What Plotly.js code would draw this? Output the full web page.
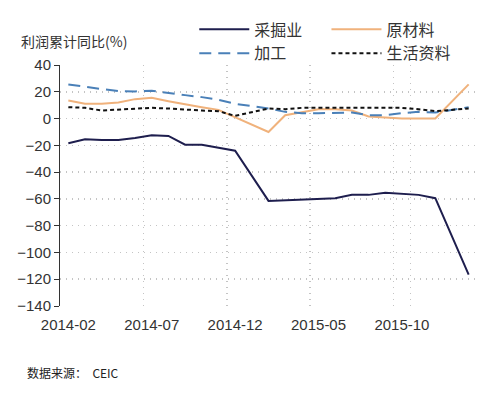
<!DOCTYPE html>
<html>
<head>
<meta charset="utf-8">
<script src="https://cdn.plot.ly/plotly-3.0.1.min.js"></script>
<style>html,body{margin:0;padding:0;background:#fff;}#chart{width:501px;height:396px;}</style>
</head>
<body>
<div id="chart"></div>
<script>
var months = ["2014-02","2014-03","2014-04","2014-05","2014-06","2014-07","2014-08","2014-09","2014-10","2014-11","2014-12",
  "2015-01","2015-02","2015-03","2015-04","2015-05","2015-06","2015-07","2015-08","2015-09","2015-10","2015-11","2015-12",
  "2016-01","2016-02"];
var tickLabels = ["2014-02","2014-07","2014-12","2015-05","2015-10"];
var mining   = [-18.5,-15.5,-16,-16,-14.5,-12.5,-13,-19.5,-19.5,-21.5,-24,null,-61.5,-61,-61,-60.5,-59.5,-57,-57,-55.5,-56,-57,-59.5,null,-116.5];
var rawMat   = [13.5,11,11,12,14.5,15.5,13,10.5,8.5,6.5,1,null,-10,2.5,5,7,7,6,1.5,0.5,0,0,0,null,25.5];
var process  = [25.5,23.5,22,20.5,20.3,20.8,19,17.5,16,14,11,null,7.5,5,4,4,4,4.5,2.5,2.5,4,5,4.5,null,8.5];
var living   = [8.5,8,6,6.5,7.5,8,7.5,6.5,6,5.5,2,null,7.5,7,8,8,8,8,8,8.5,8,7,5.5,null,7.5];
var names = ["采掘业","原材料","加工","生活资料"];

var yMin = -140, yMax = 40;
var cjk = "'Noto Sans CJK SC', 'Noto Sans', sans-serif";
var latin = "'Liberation Sans', Arial, sans-serif";

var traces = [
  {x: months, y: mining, name: names[0], type: 'scatter', mode: 'lines', connectgaps: true, legend: 'legend',
   line: {color: '#1e1e4e', width: 2}},
  {x: months, y: rawMat, name: names[1], type: 'scatter', mode: 'lines', connectgaps: true, legend: 'legend2',
   line: {color: '#f0b27c', width: 2}},
  {x: months, y: process, name: names[2], type: 'scatter', mode: 'lines', connectgaps: true, legend: 'legend',
   line: {color: '#4a80b8', width: 2, dash: '12px,7px'}},
  {x: months, y: living, name: names[3], type: 'scatter', mode: 'lines', connectgaps: true, legend: 'legend2',
   line: {color: '#111111', width: 2, dash: '4px,3px'}}
];

var legendStyle = function (xpos) {
  return {orientation: 'v', x: xpos, y: 1.218, xanchor: 'left', yanchor: 'top',
    itemwidth: 50, tracegroupgap: 0, traceorder: 'normal',
    font: {family: cjk, size: 16, color: '#333'}, bgcolor: 'rgba(0,0,0,0)'};
};

var layout = {
  width: 501, height: 396,
  margin: {l: 60, r: 24, t: 63, b: 90},
  paper_bgcolor: '#ffffff', plot_bgcolor: '#ffffff',
  showlegend: true,
  legend: legendStyle(0.322),
  legend2: legendStyle(0.639),
  xaxis: {type: 'category', categoryorder: 'array', categoryarray: months,
    range: [-0.5, months.length - 0.5], tickmode: 'array', tickvals: tickLabels, ticktext: tickLabels,
    tickson: 'boundaries', ticks: '', tickangle: 0, ticklabelstandoff: 8, showline: false, zeroline: false,
    showgrid: true, gridcolor: '#c4c4c4', griddash: '1px,5px', gridwidth: 1.5,
    tickfont: {family: latin, size: 15, color: '#333'}, automargin: false},
  xaxis2: {type: 'linear', overlaying: 'x', anchor: 'free', position: (0 - yMin) / (yMax - yMin),
    range: [-0.5, months.length - 0.5], tickmode: 'array',
    tickvals: [4.5, 9.5, 14.5, 19.5, 24.5], ticks: 'outside', ticklen: 5, tickcolor: '#444', tickwidth: 1,
    showticklabels: false, showgrid: false, zeroline: false, showline: true, linecolor: '#555', linewidth: 1},
  yaxis: {range: [yMin, yMax], dtick: 20, tick0: 0, showline: true, linecolor: '#333', linewidth: 1,
    ticks: 'outside', ticklen: 5, tickcolor: '#333', zeroline: false,
    showgrid: true, gridcolor: '#c4c4c4', griddash: '1px,5px', gridwidth: 1.5,
    tickfont: {family: latin, size: 15, color: '#333'}, automargin: false},
  annotations: [
    {text: '利润累计同比(%)', xref: 'paper', yref: 'paper', x: -0.098, y: 1.1, xanchor: 'left', yanchor: 'middle',
     showarrow: false, font: {family: cjk, size: 14, color: '#333'}},
    {text: '数据来源：  CEIC', xref: 'paper', yref: 'paper', x: -0.085, y: -0.275, xanchor: 'left', yanchor: 'middle',
     showarrow: false, font: {family: cjk, size: 12, color: '#222'}}
  ]
};

Plotly.newPlot('chart', traces, layout, {displayModeBar: false, staticPlot: true});
</script>
</body>
</html>
